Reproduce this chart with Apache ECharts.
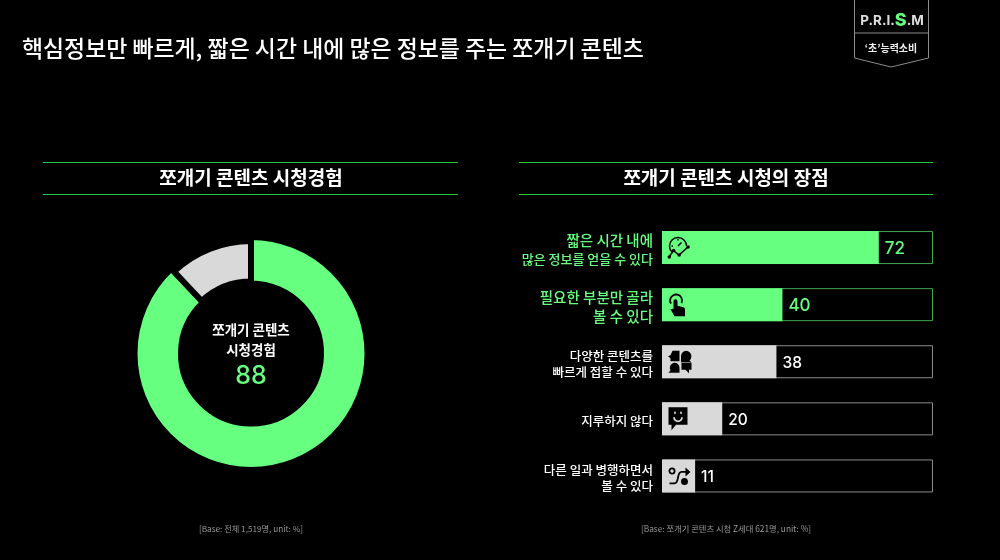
<!DOCTYPE html>
<html><head><meta charset="utf-8">
<style>html,body{margin:0;background:#000}#c{width:1000px;height:560px}</style>
<script src="https://cdn.jsdelivr.net/npm/echarts@6/dist/echarts.min.js"></script>
</head><body><div id="c"></div>
<script>
const titleText = '핵심정보만 빠르게, 짧은 시간 내에 많은 정보를 주는 쪼개기 콘텐츠';
const leftHeading = '쪼개기 콘텐츠 시청경험';
const rightHeading = '쪼개기 콘텐츠 시청의 장점';
const leftBase = '[Base: 전체 1,519명, unit: %]';
const rightBase = '[Base: 쪼개기 콘텐츠 시청 Z세대 621명, unit: %]';
const donutLabel = '쪼개기 콘텐츠\n시청경험';
const donutNames = ['시청경험 있음', '시청경험 없음'];
const donutValues = [88, 12];
const categories = ['짧은 시간 내에\n많은 정보를 얻을 수 있다', '필요한 부분만 골라\n볼 수 있다', '다양한 콘텐츠를\n빠르게 접할 수 있다', '지루하지 않다', '다른 일과 병행하면서\n볼 수 있다'];
const values = [72, 40, 38, 20, 11];
const highlighted = [true, true, false, false, false];
const axisMax = 90;

const GREEN = '#66ff7f', GRAY = '#d9d9d9', LINE = '#1fc93c';
const KR = '"Noto Sans CJK KR","Noto Sans",sans-serif';
const NUM = 'Inter,"Noto Sans CJK KR",sans-serif';
const box = 'M0 0h.01M24 24h.01';
const iconParts = [
  [{s:'M4.5 16.5A8.5 8.5 0 1 1 19 10.5M10.5 10.5L14 7M10.5 3.5V5M4 10.5H5.5', w:1.5},
   {s:'M1.5 21.5L6 15L11.5 19.5L20.5 11.5', w:1.5},
   {f:'M-.3 21.5a1.8 1.8 0 1 0 3.6 0a1.8 1.8 0 1 0-3.6 0M4.2 15a1.8 1.8 0 1 0 3.6 0a1.8 1.8 0 1 0-3.6 0M9.7 19.5a1.8 1.8 0 1 0 3.6 0a1.8 1.8 0 1 0-3.6 0M18.7 11.5a1.8 1.8 0 1 0 3.6 0a1.8 1.8 0 1 0-3.6 0'}],
  [{s:'M3.5 11A6 6 0 1 1 14 10.5'},
   {f:'M6 8.5a2 2 0 0 1 4 0V13l6 1.5a2 2 0 0 1 1.5 2V23.5H7L3 16.5l3-.5z'}],
  [{f:'M5 1H12V11.5H3V8.5L.5 6.5L3 5.5z'},
   {f:'M18.5 1a5.5 5.5 0 0 1 3.5 9.7L24 12.5H13.5V6.5A5.5 5.5 0 0 1 18.5 1z'},
   {f:'M7 13a5 5 0 0 1 5 5v5H1l2-2.5A5 5 0 0 1 7 13z'},
   {f:'M14 13h10v7h-2.5v3.5l-3.5-3.5h-4z'}],
  [{f:'M1 .5H20V18H8.5L4 23.5V18H1z'},
   {g:'M7.5 5v2M13.5 5v2M6.5 10.5a4 4 0 0 0 8 0'}],
  [{s:'M4.5 4.5a2.6 2.6 0 1 0 .01 0M2 19.5H7C12 19.5 9 8 14 8H19'},
   {f:'M18 3.5L23 8L18 12.5z'},
   {f:'M13.5 17.5a3.5 3.5 0 1 0 7 0a3.5 3.5 0 1 0-7 0'}]
];

const text = (x, y, t, size, weight, color, align) => ({type:'text', x, y, silent:true,
  style:{text:t, fill:color, font:`${weight} ${size}px ${KR}`, textAlign:align||'center', textVerticalAlign:'middle', lineHeight:Math.round(size*1.45)}});
const hline = (x1, x2, y, c) => ({type:'line', silent:true, shape:{x1, y1:y, x2, y2:y}, style:{stroke:c||LINE, lineWidth:1}});
const labelStyle = (line, i) => !highlighted[i] ? 'lo' : (line.length > 12 ? 'hs' : 'hi');

const chart = echarts.init(document.getElementById('c'));
chart.setOption({
  backgroundColor:'#000',
  animation:false,
  grid:{left:662, top:219, width:271, height:285.5},
  xAxis:{type:'value', min:0, max:axisMax, show:false},
  yAxis:{type:'category', inverse:true, data:categories,
    axisLine:{show:false}, axisTick:{show:false},
    axisLabel:{margin:9, align:'right', padding:[4,0,0,0],
      formatter:(v, i) => v.split('\n').map(l => `{${labelStyle(l, i)}|${l}}`).join('\n'),
      rich:{
        hi:{color:GREEN, fontFamily:KR, fontSize:14.5, fontWeight:500, lineHeight:19, align:'right'},
        hs:{color:GREEN, fontFamily:KR, fontSize:13, fontWeight:500, lineHeight:19, align:'right'},
        lo:{color:'#fff', fontFamily:KR, fontSize:12.5, fontWeight:500, lineHeight:16, align:'right'}
      }}},
  series:[
    {type:'pie', center:[251,353.5], radius:[70,116.5], startAngle:90, silent:true, z:2,
     label:{show:false}, labelLine:{show:false},
     data:[
       {name:donutNames[0], value:donutValues[0], itemStyle:{color:GREEN, borderColor:'#000', borderWidth:6}},
       {name:donutNames[1], value:donutValues[1], itemStyle:{color:'transparent', borderWidth:0}}
     ]},
    {type:'pie', center:[251,353.5], radius:[72,112.5], startAngle:90, silent:true, z:2,
     label:{show:false}, labelLine:{show:false},
     data:[
       {name:donutNames[0], value:donutValues[0], itemStyle:{color:'transparent', borderWidth:0}},
       {name:donutNames[1], value:donutValues[1], itemStyle:{color:GRAY, borderColor:'#000', borderWidth:6}}
     ]},
    {type:'bar', barWidth:33, barGap:'-100%', silent:true, z:2,
     data:categories.map((c, i) => ({value:axisMax, itemStyle:{color:'#000', borderWidth:1, borderColor:highlighted[i] ? '#3fa650' : '#8c8c8c'}}))},
    {type:'bar', barWidth:33, barGap:'-100%', silent:true, z:3,
     data:values.map((v, i) => ({value:v,
       itemStyle:{color:highlighted[i] ? GREEN : GRAY},
       label:{color:highlighted[i] ? GREEN : '#fff', fontSize:highlighted[i] ? 17 : 15.5}})),
     label:{show:true, position:'right', distance:6, offset:[0,1.5], fontFamily:NUM, fontWeight:500}},
    {type:'custom', coordinateSystem:'cartesian2d', silent:true, z:5,
     data:categories.map((c, i) => [0, i]),
     renderItem:(params, api) => {
       const p = api.coord([0, api.value(1)]);
       const parts = iconParts[params.dataIndex];
       return {type:'group', children:parts.map(o => ({
         type:'path',
         shape:{pathData:box + (o.f || o.s || o.g), x:p[0] + 5.5, y:p[1] - 12, width:24, height:24, layout:'cover'},
         style:o.f ? {fill:'#000'} : {fill:'none', stroke:o.s ? '#000' : GRAY, lineWidth:o.w || 1.8}
       }))};
     }}
  ],
  graphic:{elements:[
    text(22, 48, titleText, 22.9, 500, '#fff', 'left'),
    hline(43, 458, 162.5), hline(43, 458, 194.5), hline(519, 933, 162.5), hline(519, 933, 194.5),
    text(251, 178, leftHeading, 19, 700, '#fff'),
    text(726, 178, rightHeading, 19, 700, '#fff'),
    text(251, 339.5, donutLabel, 13.5, 700, '#fff'),
    {type:'text', x:251, y:376, silent:true, style:{text:String(donutValues[0]), fill:GREEN, font:`500 25px ${NUM}`, textAlign:'center', textVerticalAlign:'middle'}},
    text(251, 529, leftBase, 8.2, 400, '#999'),
    text(726, 529, rightBase, 8.3, 400, '#999'),
    {type:'polyline', silent:true, shape:{points:[[854.5,0],[854.5,58],[891,67],[928.5,58],[928.5,0]]}, style:{stroke:'#8c8c8c', lineWidth:1, fill:'none'}},
    hline(854, 929, 33, '#8c8c8c'),
    {type:'text', x:892, y:21, silent:true, style:{text:'{a|P.R.I.}{b|S}{a|.M}', textAlign:'center', textVerticalAlign:'middle',
      rich:{a:{fill:'#ddd', color:'#ddd', font:`700 13.5px ${NUM}`}, b:{fill:GREEN, color:GREEN, font:`800 18px ${NUM}`}}}},
    text(891, 48, '‘초’능력소비', 10, 700, '#eee')
  ]}
});
</script></body></html>
